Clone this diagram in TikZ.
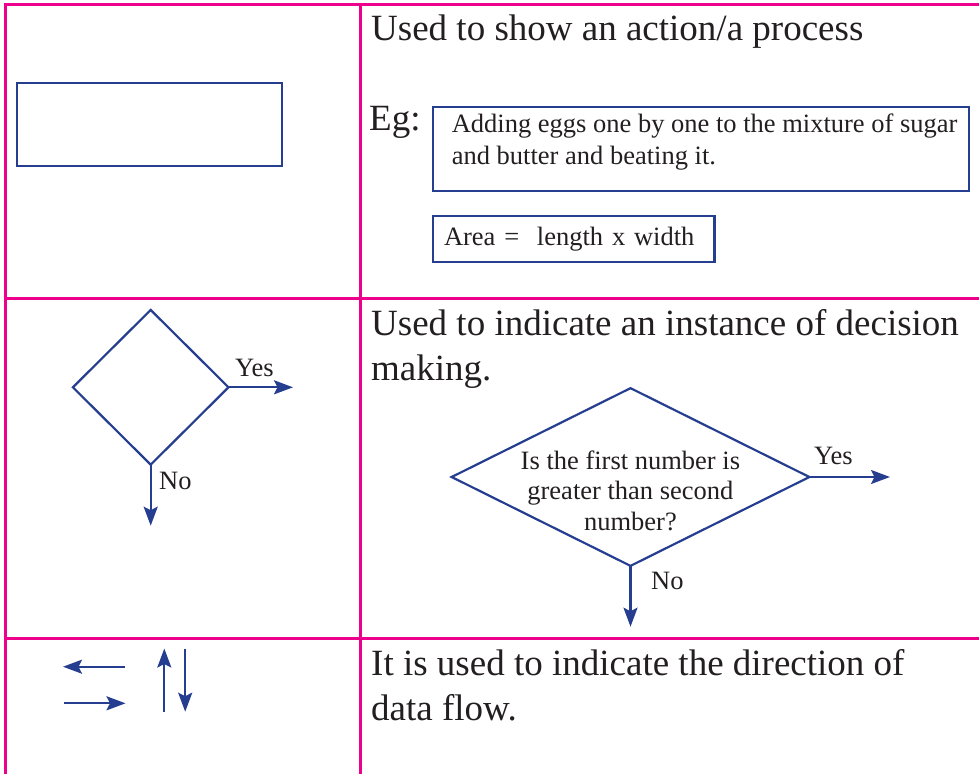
\documentclass[tikz,border=0pt]{standalone}
\usepackage{fontspec}
\setmainfont{Liberation Serif}
\usetikzlibrary{shapes.geometric,arrows.meta}
\definecolor{tblpink}{RGB}{236,0,140}
\definecolor{flowblue}{RGB}{38,62,143}
\definecolor{txt}{RGB}{35,31,32}
\begin{document}
\begin{tikzpicture}[x=1pt,y=-1pt,
  grid/.style={draw=tblpink,line width=3pt},
  bluebox/.style={draw=flowblue,line width=2.3pt,inner sep=0pt,outer sep=0pt},
  flowline/.style={draw=flowblue,line width=2.2pt},
  arr/.style={flowline,-{Stealth[length=19pt,width=14pt,inset=3.5pt]}},
  bigtext/.style={font=\fontsize{37}{45}\selectfont,text=txt,inner sep=0pt,align=left},
  smalltext/.style={font=\fontsize{26.5}{31}\selectfont,text=txt,inner sep=0pt},
  decision/.style={diamond,draw=flowblue,line width=2.2pt,inner sep=0pt,outer sep=0pt}]
\useasboundingbox (0,0) rectangle (979,774);
% table grid
\draw[grid] (979,4) -- (5,4) -- (5,774);
\draw[grid] (360,4) -- (360,774);
\draw[grid] (5,298.5) -- (979,298.5);
\draw[grid] (5,638) -- (979,638);

% row 1
\node[bluebox,anchor=north west,minimum width=265pt,minimum height=83pt] (procbox) at (17,83) {};
\node[bigtext,anchor=base west] (t1) at (371,40.7) {Used to show an action/a process};
\node[bigtext,anchor=base west] (eg) at (369,130) {Eg:};
\node[bluebox,anchor=north west,minimum width=536pt,minimum height=84pt] (eggbox) at (433,107) {};
\node[smalltext,anchor=north west,align=left,font=\fontsize{26.5}{31.6}\selectfont] (eggtext) at (451.6,113.6)
  {Adding eggs one by one to the mixture of sugar\\and butter and beating it.};
\node[bluebox,smalltext,anchor=north west,minimum width=281.5pt,minimum height=46.6pt,
  text width=259.5pt,inner xsep=11pt,inner ysep=0pt,align=left,draw=flowblue] (areabox) at (433,215.7)
  {Area = \ length x width};

% row 2
\node[decision,minimum width=155.6pt,minimum height=154.7pt] (d1) at (150.7,387.3) {};
\coordinate (y1end) at (293,387.3);
\coordinate (n1end) at (150.7,525.7);
\draw[arr] (d1.east) -- (y1end);
\draw[arr] (d1.south) -- (n1end);
\node[smalltext,anchor=base west] (yes1) at (235,376) {Yes};
\node[smalltext,anchor=base west] (no1) at (159,489.3) {No};

\node[bigtext,anchor=north west] (t2) at (371,309.7) {Used to indicate an instance of decision\\making.};
\node[decision,minimum width=357.7pt,minimum height=177.7pt] (d2) at (630.5,477) {};
\node[smalltext,align=center,font=\fontsize{26.5}{30.5}\selectfont,anchor=north] (q) at (630.4,450.2)
  {Is the first number is\\greater than second\\number?};
\coordinate (y2end) at (890,477);
\coordinate (n2end) at (630.5,626.7);
\draw[arr] (d2.east) -- (y2end);
\draw[arr] (d2.south) -- (n2end);
\node[smalltext,anchor=base west] (yes2) at (814,464) {Yes};
\node[smalltext,anchor=base west] (no2) at (651,589) {No};

% row 3
\coordinate (la1) at (125,666.7); \coordinate (la2) at (63,666.7);
\coordinate (ra1) at (63.5,703.3);  \coordinate (ra2) at (125.5,703.3);
\coordinate (ua1) at (164.3,711.7); \coordinate (ua2) at (164.3,648.5);
\coordinate (da1) at (185.2,648.5); \coordinate (da2) at (185.2,711.7);
\draw[arr] (la1) -- (la2);
\draw[arr] (ra1) -- (ra2);
\draw[arr] (ua1) -- (ua2);
\draw[arr] (da1) -- (da2);
\node[bigtext,anchor=north west] (t3) at (371,649.7) {It is used to indicate the direction of\\data flow.};
\end{tikzpicture}
\end{document}
